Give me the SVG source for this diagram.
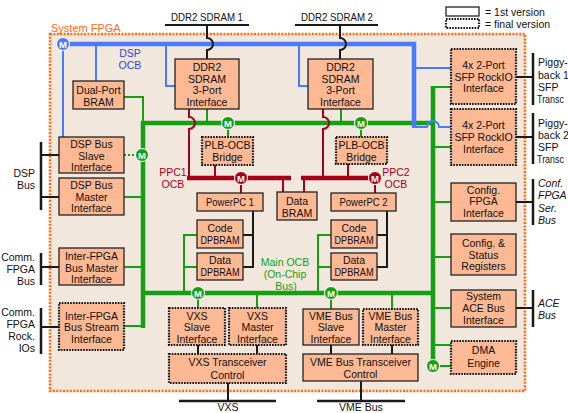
<svg xmlns="http://www.w3.org/2000/svg" width="568" height="413" viewBox="0 0 568 413">
<style>
text{font-family:"Liberation Sans",Arial,sans-serif;font-size:10.5px;fill:#111}
.c{text-anchor:middle}
.e{text-anchor:end}
.bx{fill:#FDB894;stroke:#222;stroke-width:1.3}
.dt{fill:#FDB894;stroke:#111;stroke-width:2.2;stroke-dasharray:1.6 1.2}
.k{fill:none;stroke:#1a1a1a;stroke-width:2}
.kb{fill:none;stroke:#1a1a1a;stroke-width:2.5}
.g{fill:none;stroke:#13A013;stroke-width:2}
.G{fill:none;stroke:#13A013;stroke-width:4.5}
.gd{fill:none;stroke:#13A013;stroke-width:2;stroke-dasharray:2 2}
.bl{fill:none;stroke:#4A7BFF;stroke-width:2}
.BL{fill:none;stroke:#4A7BFF;stroke-width:4.5}
.r{fill:none;stroke:#A5001A;stroke-width:2}
.R{fill:none;stroke:#A5001A;stroke-width:4.5}
.mg{fill:#13A013;stroke:#fff;stroke-width:1}
.mb{fill:#4A7BFF;stroke:#fff;stroke-width:1}
.mr{fill:#A5001A;stroke:#fff;stroke-width:1}
.mt{fill:#fff;font-size:9.5px;font-weight:bold;text-anchor:middle}
</style>

<!-- FPGA boundary -->
<g id="system-fpga">
<rect x="50" y="34" width="475" height="357" fill="#F2E7DC" stroke="#FF6A10" stroke-width="2.6" stroke-dasharray="2 1.4"/>
<text x="51" y="32" style="fill:#FF6A10;font-size:11px">System FPGA</text>
</g>

<!-- legend -->
<g id="legend">
<rect x="446" y="7" width="33" height="9" fill="#fff" stroke="#222" stroke-width="1.3"/>
<text x="485" y="16">= 1st version</text>
<rect x="446" y="19" width="33" height="9" fill="#fff" stroke="#111" stroke-width="2.2" stroke-dasharray="1.6 1.2"/>
<text x="485" y="28">= final version</text>
</g>

<!-- connectors -->
<g id="connectors">
<!-- green main OCB -->
<path class="G" d="M143,123 H433"/>
<path class="G" d="M143,121 V328"/>
<path class="G" d="M143,293 H433"/>
<path class="G" d="M433,86 V366"/>
<path class="g" d="M124,97 H143 V123"/>
<path class="gd" d="M124,155 H143"/>
<path class="g" d="M124,197 H143"/>
<path class="g" d="M124,267 H143"/>
<path class="g" d="M124,326 H143"/>
<path class="g" d="M207,109 V123"/>
<path class="g" d="M228,123 V137"/>
<path class="g" d="M341,109 V123"/>
<path class="g" d="M361,123 V137"/>
<path class="g" d="M197,235 H184 V293 M184,267 H197"/>
<path class="g" d="M331,235 H318 V293 M318,267 H331"/>
<path class="g" d="M198,293 V308"/>
<path class="g" d="M257,293 V308"/>
<path class="g" d="M331,293 V309"/>
<path class="g" d="M392,293 V309"/>
<path class="g" d="M433,87 H451 M433,147 H451 M433,202 H451 M433,257 H451 M433,308 H451 M433,345 H451 M433,366 H451"/>
<!-- blue DSP OCB -->
<path class="BL" d="M63,44 H414 V128"/>
<path class="bl" d="M63,44 V137"/>
<path class="bl" d="M96,44 V81"/>
<path class="bl" d="M166,44 V86 H175"/>
<path class="bl" d="M299,44 V86 H308"/>
<path class="bl" d="M414,68 H451"/>
<path class="bl" d="M414,127 H427 A6,6 0 0 1 439,127 H451"/>
<!-- red PPC OCBs -->
<path class="r" d="M189,109 V117 A6,6 0 0 1 189,129 V178"/>
<path class="R" d="M187,178 H291"/>
<path class="r" d="M215,165 V178"/>
<path class="r" d="M241,178 V193"/>
<path class="r" d="M283,178 V192"/>
<path class="r" d="M323,109 V117 A6,6 0 0 1 323,129 V178"/>
<path class="R" d="M301,178 H375"/>
<path class="r" d="M304,178 V192"/>
<path class="r" d="M348,164 V178"/>
<path class="r" d="M375,178 V193"/>
<!-- black -->
<path class="k" d="M165,25 H249"/>
<path class="k" d="M207,25 V38 A6,6 0 0 1 207,50 V59"/>
<path class="k" d="M295,25 H378"/>
<path class="k" d="M340,25 V38 A6,6 0 0 1 340,50 V59"/>
<path class="k" d="M253,211 V267 H243 M243,235 H253"/>
<path class="k" d="M387,211 V267 H377 M377,235 H387"/>
<path class="k" d="M516,77 H533 M516,137 H533 M516,202 H533 M516,308 H533"/>
<path class="kb" d="M533,53 V105 M533,113 V164 M533,179 V225 M533,290 V327"/>
<path class="k" d="M41,155 H59 M41,197 H59 M41,267 H59 M41,327 H59"/>
<path class="kb" d="M41,142 V210 M41,253 V285 M41,308 V354"/>
<path class="k" d="M198,345 V354 M257,345 V354 M228,383 V401"/>
<path class="kb" d="M179,401 H276"/>
<path class="k" d="M331,345 V354 M392,345 V354 M361,381 V401"/>
<path class="kb" d="M317,401 H405"/>
</g>

<!-- bus labels -->
<g id="bus-labels">
<text class="c" x="130" y="57" style="fill:#3344DD">DSP</text>
<text class="c" x="130" y="69" style="fill:#3344DD">OCB</text>
<text class="c" x="173" y="176" style="fill:#A5001A">PPC1</text>
<text class="c" x="173" y="188" style="fill:#A5001A">OCB</text>
<text class="c" x="396" y="176" style="fill:#A5001A">PPC2</text>
<text class="c" x="396" y="188" style="fill:#A5001A">OCB</text>
<text class="c" x="285" y="266" style="fill:#13A013">Main OCB</text>
<text class="c" x="285" y="278" style="fill:#13A013">(On-Chip</text>
<text class="c" x="286" y="290" style="fill:#13A013">Bus)</text>
</g>

<!-- external labels -->
<g id="ext-labels">
<text class="c" x="207" y="21" textLength="72" lengthAdjust="spacingAndGlyphs">DDR2 SDRAM 1</text>
<text class="c" x="337" y="21" textLength="72" lengthAdjust="spacingAndGlyphs">DDR2 SDRAM 2</text>
<text class="c" x="228" y="411">VXS</text>
<text class="c" x="361" y="411">VME Bus</text>
<text class="e" x="35" y="177">DSP</text>
<text class="e" x="35" y="189">Bus</text>
<text class="e" x="35" y="261">Comm.</text>
<text class="e" x="35" y="273">FPGA</text>
<text class="e" x="35" y="285">Bus</text>
<text class="e" x="35" y="316">Comm.</text>
<text class="e" x="35" y="328">FPGA</text>
<text class="e" x="35" y="340">Rock.</text>
<text class="e" x="35" y="352">IOs</text>
<text x="538" y="66">Piggy-</text>
<text x="538" y="79">back 1</text>
<text x="538" y="91">SFP</text>
<text x="537" y="103" textLength="27" lengthAdjust="spacingAndGlyphs">Transc</text>
<text x="538" y="127">Piggy-</text>
<text x="538" y="139">back 2</text>
<text x="538" y="151">SFP</text>
<text x="537" y="163" textLength="27" lengthAdjust="spacingAndGlyphs">Transc</text>
<text x="538" y="187" font-style="italic">Conf.</text>
<text x="538" y="199" font-style="italic">FPGA</text>
<text x="538" y="212" font-style="italic">Ser.</text>
<text x="538" y="224" font-style="italic">Bus</text>
<text x="538" y="307" font-style="italic">ACE</text>
<text x="538" y="319" font-style="italic">Bus</text>
</g>

<!-- nodes -->
<g id="dual-port-bram"><rect class="bx" x="73" y="81" width="51" height="28"/><text class="c" x="98.5" y="94">Dual-Port</text><text class="c" x="98.5" y="106">BRAM</text></g>
<g id="ddr2-if-1"><rect class="bx" x="175" y="59" width="64" height="50"/><text class="c" x="207" y="71">DDR2</text><text class="c" x="207" y="82.5">SDRAM</text><text class="c" x="207" y="94">3-Port</text><text class="c" x="207" y="105.5">Interface</text></g>
<g id="ddr2-if-2"><rect class="bx" x="308" y="59" width="65" height="50"/><text class="c" x="340.5" y="71">DDR2</text><text class="c" x="340.5" y="82.5">SDRAM</text><text class="c" x="340.5" y="94">3-Port</text><text class="c" x="340.5" y="105.5">Interface</text></g>
<g id="plb-ocb-1"><rect class="dt" x="202" y="137" width="51" height="28"/><text class="c" x="227.5" y="149">PLB-OCB</text><text class="c" x="227.5" y="161">Bridge</text></g>
<g id="plb-ocb-2"><rect class="dt" x="336" y="137" width="51" height="27"/><text class="c" x="361.5" y="149">PLB-OCB</text><text class="c" x="361.5" y="161">Bridge</text></g>
<g id="powerpc-1"><rect class="bx" x="197" y="193" width="66" height="18"/><text class="c" x="230" y="206" textLength="48" lengthAdjust="spacingAndGlyphs">PowerPC 1</text></g>
<g id="powerpc-2"><rect class="bx" x="331" y="193" width="65" height="18"/><text class="c" x="363.5" y="206" textLength="48" lengthAdjust="spacingAndGlyphs">PowerPC 2</text></g>
<g id="data-bram"><rect class="bx" x="277" y="192" width="40" height="28"/><text class="c" x="297" y="205">Data</text><text class="c" x="297" y="217">BRAM</text></g>
<g id="code-dpbram-1"><rect class="bx" x="197" y="220" width="46" height="28"/><text class="c" x="220" y="232">Code</text><text class="c" x="220" y="244" textLength="39" lengthAdjust="spacingAndGlyphs">DPBRAM</text></g>
<g id="data-dpbram-1"><rect class="bx" x="197" y="253" width="46" height="27"/><text class="c" x="220" y="264">Data</text><text class="c" x="220" y="276" textLength="39" lengthAdjust="spacingAndGlyphs">DPBRAM</text></g>
<g id="code-dpbram-2"><rect class="bx" x="331" y="220" width="46" height="28"/><text class="c" x="354" y="232">Code</text><text class="c" x="354" y="244" textLength="39" lengthAdjust="spacingAndGlyphs">DPBRAM</text></g>
<g id="data-dpbram-2"><rect class="bx" x="331" y="253" width="46" height="27"/><text class="c" x="354" y="264">Data</text><text class="c" x="354" y="276" textLength="39" lengthAdjust="spacingAndGlyphs">DPBRAM</text></g>
<g id="dsp-bus-slave"><rect class="bx" x="59" y="137" width="65" height="36"/><text class="c" x="91.5" y="148">DSP Bus</text><text class="c" x="91.5" y="160">Slave</text><text class="c" x="91.5" y="171">Interface</text></g>
<g id="dsp-bus-master"><rect class="bx" x="59" y="178" width="65" height="37"/><text class="c" x="91.5" y="189">DSP Bus</text><text class="c" x="91.5" y="201">Master</text><text class="c" x="91.5" y="212">Interface</text></g>
<g id="inter-fpga-master"><rect class="bx" x="59" y="248" width="65" height="37"/><text class="c" x="91.5" y="260">Inter-FPGA</text><text class="c" x="91.5" y="272">Bus Master</text><text class="c" x="91.5" y="283">Interface</text></g>
<g id="inter-fpga-stream"><rect class="dt" x="59" y="303" width="65" height="47"/><text class="c" x="91.5" y="320">Inter-FPGA</text><text class="c" x="91.5" y="331">Bus Stream</text><text class="c" x="91.5" y="343">Interface</text></g>
<g id="sfp-1"><rect class="dt" x="451" y="49" width="65" height="55"/><text class="c" x="483.5" y="69">4x 2-Port</text><text class="c" x="483.5" y="81">SFP RockIO</text><text class="c" x="483.5" y="92">Interface</text></g>
<g id="sfp-2"><rect class="dt" x="451" y="109" width="65" height="56"/><text class="c" x="483.5" y="129">4x 2-Port</text><text class="c" x="483.5" y="141">SFP RockIO</text><text class="c" x="483.5" y="153">Interface</text></g>
<g id="config-fpga"><rect class="bx" x="451" y="183" width="65" height="38"/><text class="c" x="483.5" y="194">Config.</text><text class="c" x="483.5" y="205">FPGA</text><text class="c" x="483.5" y="217">Interface</text></g>
<g id="config-status"><rect class="bx" x="451" y="234" width="65" height="41"/><text class="c" x="483.5" y="247">Config. &amp;</text><text class="c" x="483.5" y="259">Status</text><text class="c" x="483.5" y="270">Registers</text></g>
<g id="system-ace"><rect class="bx" x="451" y="290" width="65" height="37"/><text class="c" x="483.5" y="300">System</text><text class="c" x="483.5" y="312">ACE Bus</text><text class="c" x="483.5" y="324">Interface</text></g>
<g id="dma"><rect class="dt" x="451" y="341" width="65" height="33"/><text class="c" x="483.5" y="354">DMA</text><text class="c" x="483.5" y="367">Engine</text></g>
<g id="vxs-slave"><rect class="dt" x="169" y="308" width="56" height="37"/><text class="c" x="197" y="320">VXS</text><text class="c" x="197" y="331">Slave</text><text class="c" x="197" y="343">Interface</text></g>
<g id="vxs-master"><rect class="dt" x="229" y="308" width="57" height="37"/><text class="c" x="257.5" y="320">VXS</text><text class="c" x="257.5" y="331">Master</text><text class="c" x="257.5" y="343">Interface</text></g>
<g id="vxs-transceiver"><rect class="dt" x="169" y="354" width="117" height="29"/><text class="c" x="227.5" y="366">VXS Transceiver</text><text class="c" x="227.5" y="379">Control</text></g>
<g id="vme-slave"><rect class="bx" x="303" y="309" width="56" height="36"/><text class="c" x="331" y="320">VME Bus</text><text class="c" x="331" y="331">Slave</text><text class="c" x="331" y="343">Interface</text></g>
<g id="vme-master"><rect class="dt" x="363" y="309" width="55" height="36"/><text class="c" x="390.5" y="320">VME Bus</text><text class="c" x="390.5" y="331">Master</text><text class="c" x="390.5" y="343">Interface</text></g>
<g id="vme-transceiver"><rect class="bx" x="303" y="354" width="115" height="27"/><text class="c" x="360.5" y="366">VME Bus Transceiver</text><text class="c" x="360.5" y="378">Control</text></g>

<!-- bus masters (M) -->
<g id="m-dsp"><circle class="mb" cx="63" cy="44" r="6.5"/><text class="mt" x="63" y="47.5">M</text></g>
<g id="m-ddr1"><circle class="mg" cx="228" cy="123" r="6.5"/><text class="mt" x="228" y="126.5">M</text></g>
<g id="m-ddr2"><circle class="mg" cx="361" cy="123" r="6.5"/><text class="mt" x="361" y="126.5">M</text></g>
<g id="m-dsp-slave"><circle class="mg" cx="142" cy="155" r="6.5"/><text class="mt" x="142" y="158.5">M</text></g>
<g id="m-ppc1"><circle class="mr" cx="241" cy="178" r="6.5"/><text class="mt" x="241" y="181.5">M</text></g>
<g id="m-ppc2"><circle class="mr" cx="375" cy="178" r="6.5"/><text class="mt" x="375" y="181.5">M</text></g>
<g id="m-vxs"><circle class="mg" cx="198" cy="293" r="6.5"/><text class="mt" x="198" y="296.5">M</text></g>
<g id="m-vme"><circle class="mg" cx="331" cy="293" r="6.5"/><text class="mt" x="331" y="296.5">M</text></g>
<g id="m-dma"><circle class="mg" cx="433" cy="366" r="6.5"/><text class="mt" x="433" y="369.5">M</text></g>
</svg>
